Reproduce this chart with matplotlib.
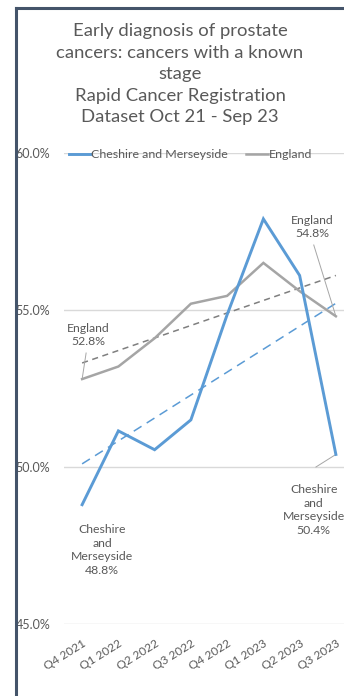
import numpy as np
import matplotlib
matplotlib.use("Agg")
import matplotlib.pyplot as plt
from matplotlib.lines import Line2D

plt.rcParams['font.family'] = ['Lato', 'DejaVu Sans']

quarters = ["Q4 2021", "Q1 2022", "Q2 2022", "Q3 2022",
            "Q4 2022", "Q1 2023", "Q2 2023", "Q3 2023"]
cheshire = [48.8, 51.15, 50.55, 51.5, 54.85, 57.9, 56.1, 50.4]
england = [52.8, 53.2, 54.1, 55.2, 55.45, 56.5, 55.6, 54.8]
y_ticks = [45.0, 50.0, 55.0, 60.0]

BLUE = "#5B9BD5"
GREY = "#A5A5A5"
TXT = "#595959"

W, H = 344, 696
fig = plt.figure(figsize=(W / 100, H / 100), dpi=100)

# plot area in pixel terms
left_px, right_px, top_px, bot_px = 64, 354, 153, 624
ax = fig.add_axes([left_px / W, 1 - bot_px / H,
                   (right_px - left_px) / W, (bot_px - top_px) / H])

x = np.arange(len(quarters))
ax.set_xlim(-0.5, len(quarters) - 0.5)
ax.set_ylim(45, 60)

for sp in ax.spines.values():
    sp.set_visible(False)
ax.set_yticks(y_ticks)
ax.set_yticklabels([f"{v:.1f}%" for v in y_ticks], color=TXT, fontsize=9)
ax.grid(axis='y', color="#D9D9D9", lw=1)
ax.set_axisbelow(True)
ax.tick_params(axis='both', length=0)
ax.tick_params(axis='y', pad=10)
ax.set_xticks(x)
ax.set_xticklabels(quarters, rotation=32, ha='right', va='top',
                   rotation_mode='anchor', color=TXT, fontsize=8.6)
ax.tick_params(axis='x', pad=10)

# series lines
ax.plot(x, cheshire, color=BLUE, lw=2.1, label="Cheshire and Merseyside",
        solid_joinstyle='miter', clip_on=False, zorder=4)
ax.plot(x, england, color=GREY, lw=1.8, label="England",
        solid_joinstyle='miter', clip_on=False, zorder=3)

# linear trend lines
for vals, col, dash in [(cheshire, BLUE, (6, 4)), (england, "#7F7F7F", (4, 3))]:
    k, b = np.polyfit(x, vals, 1)
    ax.plot(x[[0, -1]], k * x[[0, -1]] + b, color=col, lw=1.1,
            dashes=dash, zorder=2)

# data labels with leader lines
lab_kw = dict(color=TXT, fontsize=8.8, ha='center', va='center', linespacing=1.3)
ax.text(0.165, 54.20, f"England\n{england[0]:.1f}%", **lab_kw)
ax.plot([0.11, 0.0], [53.63, england[0]], color="#A6A6A6", lw=0.7)
ax.text(6.36, 57.64, f"England\n{england[-1]:.1f}%", **lab_kw)
ax.plot([6.39, 7.0], [57.07, england[-1]], color="#A6A6A6", lw=0.7)
ax.text(0.55, 47.36, f"Cheshire\nand\nMerseyside\n{cheshire[0]:.1f}%", **lab_kw)
ax.text(6.39, 48.63, f"Cheshire\nand\nMerseyside\n{cheshire[-1]:.1f}%", **lab_kw)
ax.plot([6.45, 7.0], [50.0, cheshire[-1]], color="#A6A6A6", lw=0.7)

leg = ax.legend(loc='upper left', bbox_to_anchor=(0.0, 1.018), ncol=2,
                frameon=False, fontsize=8.9, handlelength=1.7,
                handletextpad=0.1, columnspacing=1.5, borderaxespad=0)
for t in leg.get_texts():
    t.set_color(TXT)

fig.text(180 / W, 1 - 23 / H,
         "Early diagnosis of prostate\ncancers: cancers with a known\nstage\n"
         "Rapid Cancer Registration\nDataset Oct 21 - Sep 23",
         ha='center', va='top', fontsize=13.3, color=TXT, linespacing=1.43)

# outer frame edges
frame_col = "#44546A"
fx, fy = 16 / W, 1 - 8 / H
fig.add_artist(Line2D([fx, fx], [0, fy], transform=fig.transFigure,
                      color=frame_col, lw=2.2, solid_capstyle='projecting'))
fig.add_artist(Line2D([fx, 1], [fy, fy], transform=fig.transFigure,
                      color=frame_col, lw=2.2, solid_capstyle='projecting'))

fig.savefig("out.png", dpi=100)
